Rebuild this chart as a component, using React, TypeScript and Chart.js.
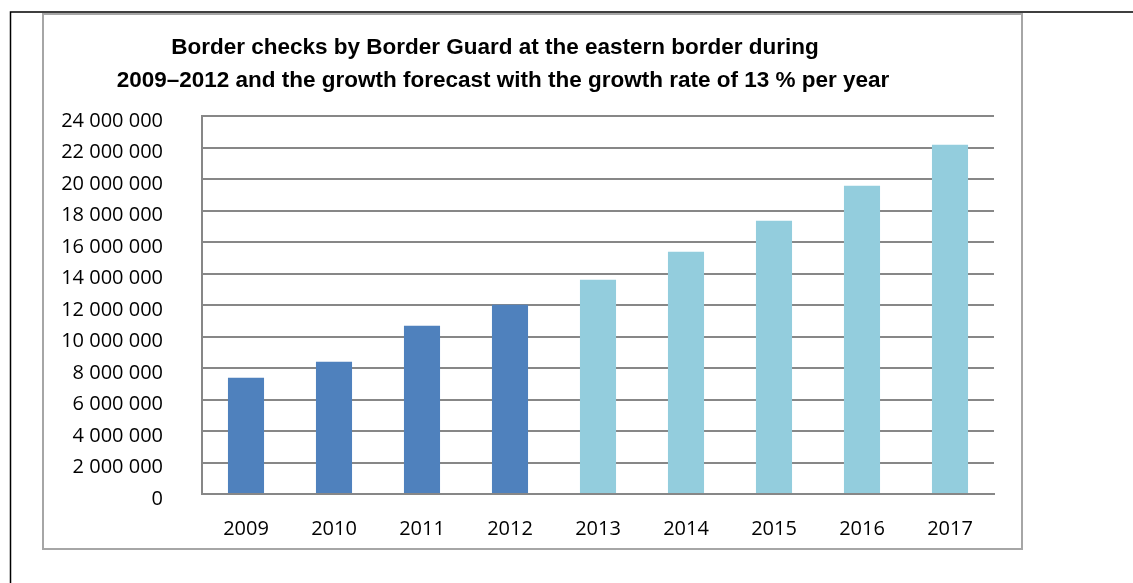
import React, { useEffect, useRef } from "react";
import { Chart, registerables } from "chart.js";

Chart.register(...registerables);

const TITLE_LINES = [
  "Border checks by Border Guard at the eastern border during",
  "2009–2012 and the growth forecast with the growth rate of 13 % per year",
];
const YEARS = ["2009", "2010", "2011", "2012", "2013", "2014", "2015", "2016", "2017"];
const CHECKS = [7380000, 8400000, 10690000, 12020000, 13600000, 15380000, 17350000, 19570000, 22170000];
const LAST_ACTUAL_YEAR = 2012;
const Y_MIN = 0;
const Y_MAX = 24000000;
const Y_STEP = 2000000;

const ACTUAL_COLOR = "#4F81BD";
const FORECAST_COLOR = "#93CDDD";
const GRID_COLOR = "#878787";

const fmt = (v: number) => String(v).replace(/\B(?=(\d{3})+(?!\d))/g, " ");

const framePlugin = {
  id: "framePlugin",
  beforeDraw(chart: any) {
    const ctx = chart.ctx;
    ctx.save();
    ctx.fillStyle = "#ffffff";
    ctx.fillRect(0, 0, chart.width, chart.height);
    // outer black frame (top + left)
    ctx.strokeStyle = "#000000";
    ctx.lineWidth = 1.5;
    ctx.beginPath();
    ctx.moveTo(10.5, chart.height);
    ctx.lineTo(10.5, 12);
    ctx.lineTo(chart.width, 12);
    ctx.stroke();
    // inner gray chart box
    ctx.strokeStyle = "#a6a6a6";
    ctx.lineWidth = 2;
    ctx.strokeRect(43, 14, 979, 535);
    ctx.restore();
  },
  afterDraw(chart: any) {
    const ctx = chart.ctx;
    ctx.save();
    ctx.fillStyle = "#000000";
    ctx.font = "bold 22.5px 'Liberation Sans', Arial, sans-serif";
    ctx.textAlign = "center";
    ctx.textBaseline = "alphabetic";
    ctx.fillText(TITLE_LINES[0], 495, 54);
    ctx.fillText(TITLE_LINES[1], 503, 87);
    ctx.restore();
  },
};

export default function App() {
  const ref = useRef<HTMLCanvasElement | null>(null);
  useEffect(() => {
    document.body.style.margin = "0";
    if (!ref.current) return;
    const colors = YEARS.map((y) => (Number(y) <= LAST_ACTUAL_YEAR ? ACTUAL_COLOR : FORECAST_COLOR));
    const chart = new Chart(ref.current, {
      type: "bar",
      data: {
        labels: YEARS,
        datasets: [
          {
            label: "Border checks",
            data: CHECKS,
            backgroundColor: colors,
            borderWidth: 0,
            barPercentage: 0.41,
            categoryPercentage: 1,
          },
        ],
      },
      options: {
        responsive: false,
        animation: false,
        layout: { padding: { left: 43, right: 139, top: 116, bottom: 34 } },
        plugins: {
          legend: { display: false },
          title: { display: false },
          tooltip: { enabled: false },
        },
        scales: {
          x: {
            grid: { display: false, drawTicks: false },
            border: { display: true, color: GRID_COLOR, width: 2 },
            ticks: {
              color: "#000000",
              padding: 23,
              font: { family: "'Open Sans', sans-serif", size: 20 },
            },
            afterFit: (scale: any) => {
              scale.height = 55;
            },
          },
          y: {
            min: Y_MIN,
            max: Y_MAX,
            grid: { color: GRID_COLOR, lineWidth: 2, drawTicks: false },
            border: { display: true, color: GRID_COLOR, width: 2 },
            ticks: {
              stepSize: Y_STEP,
              color: "#000000",
              padding: 39,
              labelOffset: 5,
              font: { family: "'Open Sans', sans-serif", size: 20 },
              callback: (v: any) => fmt(Number(v)),
            },
            afterFit: (scale: any) => {
              scale.width = 159;
            },
          },
        },
      },
      plugins: [framePlugin],
    });
    return () => chart.destroy();
  }, []);
  return (
    <div style={{ position: "absolute", left: 0, top: 0, width: 1133, height: 583 }}>
      <canvas ref={ref} width={1133} height={583} />
    </div>
  );
}
